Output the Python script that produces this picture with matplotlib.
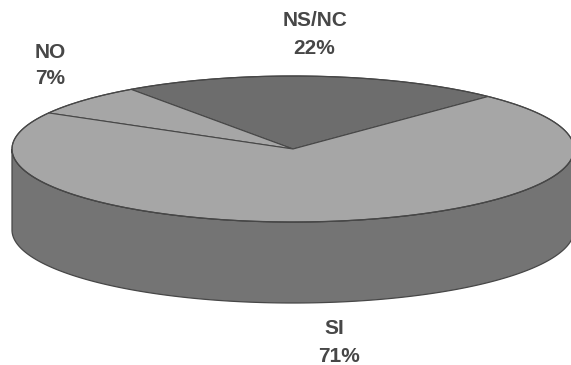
import numpy as np
import matplotlib.pyplot as plt
from matplotlib.patches import Polygon

labels = ['NS/NC', 'NO', 'SI']
shares = [22, 7, 71]
top_colors = ['#6d6d6d', '#a6a6a6', '#a6a6a6']
side_color = '#747474'
edge_color = '#474747'

# pie geometry in pixel units (y grows downwards)
cx, cy = 293.0, 149.0
a, b = 281.0, 73.0
depth = 81.0
start = 46.0

fig = plt.figure(figsize=(5.71, 3.65), dpi=100)
ax = fig.add_axes([0, 0, 1, 1])
ax.set_xlim(0, 571)
ax.set_ylim(365, 0)
ax.axis('off')

def rim(t0, t1, dy=0.0, n=200):
    t = np.radians(np.linspace(t0, t1, n))
    return np.column_stack([cx + a * np.cos(t), cy - b * np.sin(t) + dy])

# front wall (only the SI slice faces the viewer)
top_edge = rim(180, 360)
bot_edge = rim(360, 180, dy=depth)
wall = Polygon(np.vstack([top_edge, bot_edge]), closed=True,
               facecolor=side_color, edgecolor=edge_color, lw=0.9, zorder=1)
ax.add_patch(wall)

# top face wedges
angles = start + np.concatenate([[0], np.cumsum(shares)]) * 3.6
for i in range(len(shares)):
    pts = np.vstack([[cx, cy], rim(angles[i], angles[i + 1])])
    ax.add_patch(Polygon(pts, closed=True, facecolor=top_colors[i],
                         edgecolor=edge_color, lw=0.8, zorder=2))

# outer rim of the top face
ax.plot(*rim(0, 360).T, color=edge_color, lw=0.9, zorder=3)

txt = dict(ha='center', va='center', fontsize=15, fontweight='bold',
           family='Liberation Sans', color='#474747')
label_pos = {'NS/NC': (315, 21, 314, 48),
             'NO': (50, 52, 50, 79),
             'SI': (334, 328, 339, 356)}
for lab, s in zip(labels, shares):
    x1, y1, x2, y2 = label_pos[lab]
    ax.text(x1, y1, lab, **txt)
    ax.text(x2, y2, f'{s}%', **txt)

fig.savefig('out.png', dpi=100)
